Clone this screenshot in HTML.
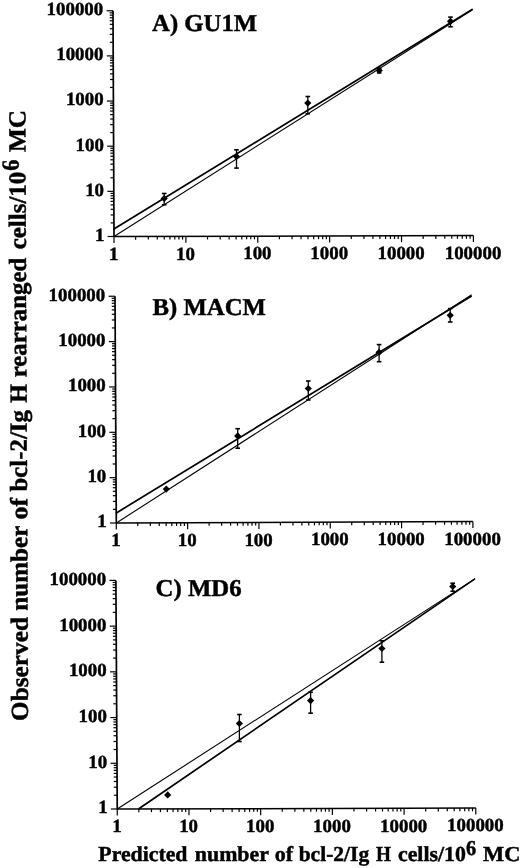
<!DOCTYPE html>
<html><head><meta charset="utf-8"><style>
html,body{margin:0;padding:0;background:#fff;}
svg{display:block;text-rendering:geometricPrecision;filter:blur(0.4px);}
text{font-family:"Liberation Serif",serif;font-weight:bold;fill:#000;stroke:#000;stroke-width:0.45px;}
</style></head><body>
<svg width="520" height="868" viewBox="0 0 520 868">
<g stroke="#000" fill="#000">
<line x1="114.00" y1="236.50" x2="473.40" y2="235.60" stroke-width="1.5" stroke-linecap="butt"/>
<line x1="114.00" y1="236.50" x2="113.00" y2="10.75" stroke-width="1.7" stroke-linecap="butt"/>
<line x1="114.00" y1="236.50" x2="114.00" y2="243.00" stroke-width="1.2" stroke-linecap="butt"/>
<line x1="114.00" y1="236.50" x2="107.60" y2="236.50" stroke-width="1.2" stroke-linecap="butt"/>
<line x1="135.64" y1="236.45" x2="135.64" y2="239.65" stroke-width="1.2" stroke-linecap="butt"/>
<line x1="113.94" y1="222.91" x2="110.64" y2="222.91" stroke-width="1.2" stroke-linecap="butt"/>
<line x1="148.30" y1="236.41" x2="148.30" y2="239.61" stroke-width="1.2" stroke-linecap="butt"/>
<line x1="113.90" y1="214.96" x2="110.60" y2="214.96" stroke-width="1.2" stroke-linecap="butt"/>
<line x1="157.28" y1="236.39" x2="157.28" y2="239.59" stroke-width="1.2" stroke-linecap="butt"/>
<line x1="113.88" y1="209.32" x2="110.58" y2="209.32" stroke-width="1.2" stroke-linecap="butt"/>
<line x1="164.24" y1="236.37" x2="164.24" y2="239.57" stroke-width="1.2" stroke-linecap="butt"/>
<line x1="113.86" y1="204.94" x2="110.56" y2="204.94" stroke-width="1.2" stroke-linecap="butt"/>
<line x1="169.93" y1="236.36" x2="169.93" y2="239.56" stroke-width="1.2" stroke-linecap="butt"/>
<line x1="113.84" y1="201.37" x2="110.54" y2="201.37" stroke-width="1.2" stroke-linecap="butt"/>
<line x1="174.75" y1="236.35" x2="174.75" y2="239.55" stroke-width="1.2" stroke-linecap="butt"/>
<line x1="113.83" y1="198.34" x2="110.53" y2="198.34" stroke-width="1.2" stroke-linecap="butt"/>
<line x1="178.91" y1="236.34" x2="178.91" y2="239.54" stroke-width="1.2" stroke-linecap="butt"/>
<line x1="113.82" y1="195.73" x2="110.52" y2="195.73" stroke-width="1.2" stroke-linecap="butt"/>
<line x1="182.59" y1="236.33" x2="182.59" y2="239.53" stroke-width="1.2" stroke-linecap="butt"/>
<line x1="113.81" y1="193.42" x2="110.51" y2="193.42" stroke-width="1.2" stroke-linecap="butt"/>
<text transform="translate(109.02,259.80) scale(1.0200,1)" style="font-size:18.5px" >1</text>
<text transform="translate(95.04,240.90) scale(1.0200,1)" style="font-size:18.5px" >1</text>
<line x1="185.88" y1="236.32" x2="185.88" y2="242.82" stroke-width="1.2" stroke-linecap="butt"/>
<line x1="113.80" y1="191.35" x2="107.40" y2="191.35" stroke-width="1.2" stroke-linecap="butt"/>
<line x1="207.52" y1="236.27" x2="207.52" y2="239.47" stroke-width="1.2" stroke-linecap="butt"/>
<line x1="113.74" y1="177.76" x2="110.44" y2="177.76" stroke-width="1.2" stroke-linecap="butt"/>
<line x1="220.18" y1="236.23" x2="220.18" y2="239.43" stroke-width="1.2" stroke-linecap="butt"/>
<line x1="113.70" y1="169.81" x2="110.40" y2="169.81" stroke-width="1.2" stroke-linecap="butt"/>
<line x1="229.16" y1="236.21" x2="229.16" y2="239.41" stroke-width="1.2" stroke-linecap="butt"/>
<line x1="113.68" y1="164.17" x2="110.38" y2="164.17" stroke-width="1.2" stroke-linecap="butt"/>
<line x1="236.12" y1="236.19" x2="236.12" y2="239.39" stroke-width="1.2" stroke-linecap="butt"/>
<line x1="113.66" y1="159.79" x2="110.36" y2="159.79" stroke-width="1.2" stroke-linecap="butt"/>
<line x1="241.81" y1="236.18" x2="241.81" y2="239.38" stroke-width="1.2" stroke-linecap="butt"/>
<line x1="113.64" y1="156.22" x2="110.34" y2="156.22" stroke-width="1.2" stroke-linecap="butt"/>
<line x1="246.63" y1="236.17" x2="246.63" y2="239.37" stroke-width="1.2" stroke-linecap="butt"/>
<line x1="113.63" y1="153.19" x2="110.33" y2="153.19" stroke-width="1.2" stroke-linecap="butt"/>
<line x1="250.79" y1="236.16" x2="250.79" y2="239.36" stroke-width="1.2" stroke-linecap="butt"/>
<line x1="113.62" y1="150.58" x2="110.32" y2="150.58" stroke-width="1.2" stroke-linecap="butt"/>
<line x1="254.47" y1="236.15" x2="254.47" y2="239.35" stroke-width="1.2" stroke-linecap="butt"/>
<line x1="113.61" y1="148.27" x2="110.31" y2="148.27" stroke-width="1.2" stroke-linecap="butt"/>
<text transform="translate(176.05,259.62) scale(1.0200,1)" style="font-size:18.5px" >10</text>
<text transform="translate(85.15,195.75) scale(1.0200,1)" style="font-size:18.5px" >10</text>
<line x1="257.76" y1="236.14" x2="257.76" y2="242.64" stroke-width="1.2" stroke-linecap="butt"/>
<line x1="113.60" y1="146.20" x2="107.20" y2="146.20" stroke-width="1.2" stroke-linecap="butt"/>
<line x1="279.40" y1="236.09" x2="279.40" y2="239.29" stroke-width="1.2" stroke-linecap="butt"/>
<line x1="113.54" y1="132.61" x2="110.24" y2="132.61" stroke-width="1.2" stroke-linecap="butt"/>
<line x1="292.06" y1="236.05" x2="292.06" y2="239.25" stroke-width="1.2" stroke-linecap="butt"/>
<line x1="113.50" y1="124.66" x2="110.20" y2="124.66" stroke-width="1.2" stroke-linecap="butt"/>
<line x1="301.04" y1="236.03" x2="301.04" y2="239.23" stroke-width="1.2" stroke-linecap="butt"/>
<line x1="113.48" y1="119.02" x2="110.18" y2="119.02" stroke-width="1.2" stroke-linecap="butt"/>
<line x1="308.00" y1="236.01" x2="308.00" y2="239.21" stroke-width="1.2" stroke-linecap="butt"/>
<line x1="113.46" y1="114.64" x2="110.16" y2="114.64" stroke-width="1.2" stroke-linecap="butt"/>
<line x1="313.69" y1="236.00" x2="313.69" y2="239.20" stroke-width="1.2" stroke-linecap="butt"/>
<line x1="113.44" y1="111.07" x2="110.14" y2="111.07" stroke-width="1.2" stroke-linecap="butt"/>
<line x1="318.51" y1="235.99" x2="318.51" y2="239.19" stroke-width="1.2" stroke-linecap="butt"/>
<line x1="113.43" y1="108.04" x2="110.13" y2="108.04" stroke-width="1.2" stroke-linecap="butt"/>
<line x1="322.67" y1="235.98" x2="322.67" y2="239.18" stroke-width="1.2" stroke-linecap="butt"/>
<line x1="113.42" y1="105.43" x2="110.12" y2="105.43" stroke-width="1.2" stroke-linecap="butt"/>
<line x1="326.35" y1="235.97" x2="326.35" y2="239.17" stroke-width="1.2" stroke-linecap="butt"/>
<line x1="113.41" y1="103.12" x2="110.11" y2="103.12" stroke-width="1.2" stroke-linecap="butt"/>
<text transform="translate(243.21,259.44) scale(1.0200,1)" style="font-size:18.5px" >100</text>
<text transform="translate(75.51,150.60) scale(1.0200,1)" style="font-size:18.5px" >100</text>
<line x1="329.64" y1="235.96" x2="329.64" y2="242.46" stroke-width="1.2" stroke-linecap="butt"/>
<line x1="113.40" y1="101.05" x2="107.00" y2="101.05" stroke-width="1.2" stroke-linecap="butt"/>
<line x1="351.28" y1="235.91" x2="351.28" y2="239.11" stroke-width="1.2" stroke-linecap="butt"/>
<line x1="113.34" y1="87.46" x2="110.04" y2="87.46" stroke-width="1.2" stroke-linecap="butt"/>
<line x1="363.94" y1="235.87" x2="363.94" y2="239.07" stroke-width="1.2" stroke-linecap="butt"/>
<line x1="113.30" y1="79.51" x2="110.00" y2="79.51" stroke-width="1.2" stroke-linecap="butt"/>
<line x1="372.92" y1="235.85" x2="372.92" y2="239.05" stroke-width="1.2" stroke-linecap="butt"/>
<line x1="113.28" y1="73.87" x2="109.98" y2="73.87" stroke-width="1.2" stroke-linecap="butt"/>
<line x1="379.88" y1="235.83" x2="379.88" y2="239.03" stroke-width="1.2" stroke-linecap="butt"/>
<line x1="113.26" y1="69.49" x2="109.96" y2="69.49" stroke-width="1.2" stroke-linecap="butt"/>
<line x1="385.57" y1="235.82" x2="385.57" y2="239.02" stroke-width="1.2" stroke-linecap="butt"/>
<line x1="113.24" y1="65.92" x2="109.94" y2="65.92" stroke-width="1.2" stroke-linecap="butt"/>
<line x1="390.39" y1="235.81" x2="390.39" y2="239.01" stroke-width="1.2" stroke-linecap="butt"/>
<line x1="113.23" y1="62.89" x2="109.93" y2="62.89" stroke-width="1.2" stroke-linecap="butt"/>
<line x1="394.55" y1="235.80" x2="394.55" y2="239.00" stroke-width="1.2" stroke-linecap="butt"/>
<line x1="113.22" y1="60.28" x2="109.92" y2="60.28" stroke-width="1.2" stroke-linecap="butt"/>
<line x1="398.23" y1="235.79" x2="398.23" y2="238.99" stroke-width="1.2" stroke-linecap="butt"/>
<line x1="113.21" y1="57.97" x2="109.91" y2="57.97" stroke-width="1.2" stroke-linecap="butt"/>
<text transform="translate(310.37,259.26) scale(1.0200,1)" style="font-size:18.5px" >1000</text>
<text transform="translate(65.88,105.45) scale(1.0200,1)" style="font-size:18.5px" >1000</text>
<line x1="401.52" y1="235.78" x2="401.52" y2="242.28" stroke-width="1.2" stroke-linecap="butt"/>
<line x1="113.20" y1="55.90" x2="106.80" y2="55.90" stroke-width="1.2" stroke-linecap="butt"/>
<line x1="423.16" y1="235.73" x2="423.16" y2="238.93" stroke-width="1.2" stroke-linecap="butt"/>
<line x1="113.14" y1="42.31" x2="109.84" y2="42.31" stroke-width="1.2" stroke-linecap="butt"/>
<line x1="435.82" y1="235.69" x2="435.82" y2="238.89" stroke-width="1.2" stroke-linecap="butt"/>
<line x1="113.10" y1="34.36" x2="109.80" y2="34.36" stroke-width="1.2" stroke-linecap="butt"/>
<line x1="444.80" y1="235.67" x2="444.80" y2="238.87" stroke-width="1.2" stroke-linecap="butt"/>
<line x1="113.08" y1="28.72" x2="109.78" y2="28.72" stroke-width="1.2" stroke-linecap="butt"/>
<line x1="451.76" y1="235.65" x2="451.76" y2="238.85" stroke-width="1.2" stroke-linecap="butt"/>
<line x1="113.06" y1="24.34" x2="109.76" y2="24.34" stroke-width="1.2" stroke-linecap="butt"/>
<line x1="457.45" y1="235.64" x2="457.45" y2="238.84" stroke-width="1.2" stroke-linecap="butt"/>
<line x1="113.04" y1="20.77" x2="109.74" y2="20.77" stroke-width="1.2" stroke-linecap="butt"/>
<line x1="462.27" y1="235.63" x2="462.27" y2="238.83" stroke-width="1.2" stroke-linecap="butt"/>
<line x1="113.03" y1="17.74" x2="109.73" y2="17.74" stroke-width="1.2" stroke-linecap="butt"/>
<line x1="466.43" y1="235.62" x2="466.43" y2="238.82" stroke-width="1.2" stroke-linecap="butt"/>
<line x1="113.02" y1="15.13" x2="109.72" y2="15.13" stroke-width="1.2" stroke-linecap="butt"/>
<line x1="470.11" y1="235.61" x2="470.11" y2="238.81" stroke-width="1.2" stroke-linecap="butt"/>
<line x1="113.01" y1="12.82" x2="109.71" y2="12.82" stroke-width="1.2" stroke-linecap="butt"/>
<text transform="translate(377.54,259.08) scale(1.0200,1)" style="font-size:18.5px" >10000</text>
<text transform="translate(56.24,60.30) scale(1.0200,1)" style="font-size:18.5px" >10000</text>
<line x1="473.40" y1="235.60" x2="473.40" y2="242.10" stroke-width="1.2" stroke-linecap="butt"/>
<line x1="113.00" y1="10.75" x2="106.60" y2="10.75" stroke-width="1.2" stroke-linecap="butt"/>
<text transform="translate(444.70,258.90) scale(1.0200,1)" style="font-size:18.5px" >100000</text>
<text transform="translate(46.61,15.15) scale(1.0200,1)" style="font-size:18.5px" >100000</text>
<line x1="114.00" y1="236.50" x2="472.10" y2="10.00" stroke-width="1.1" stroke-linecap="round"/>
<line x1="114.30" y1="228.80" x2="472.10" y2="9.50" stroke-width="1.7" stroke-linecap="round"/>
<line x1="164.20" y1="193.50" x2="164.20" y2="204.80" stroke-width="1.3" stroke-linecap="butt"/>
<line x1="161.90" y1="193.50" x2="166.50" y2="193.50" stroke-width="1.6" stroke-linecap="butt"/>
<line x1="161.90" y1="204.80" x2="166.50" y2="204.80" stroke-width="1.6" stroke-linecap="butt"/>
<path d="M164.20 194.90L167.80 198.50L164.20 202.10L160.60 198.50Z" stroke="none"/>
<line x1="236.50" y1="149.80" x2="236.50" y2="168.10" stroke-width="1.3" stroke-linecap="butt"/>
<line x1="234.20" y1="149.80" x2="238.80" y2="149.80" stroke-width="1.6" stroke-linecap="butt"/>
<line x1="234.20" y1="168.10" x2="238.80" y2="168.10" stroke-width="1.6" stroke-linecap="butt"/>
<path d="M236.50 152.90L240.10 156.50L236.50 160.10L232.90 156.50Z" stroke="none"/>
<line x1="307.80" y1="96.50" x2="307.80" y2="113.80" stroke-width="1.3" stroke-linecap="butt"/>
<line x1="305.50" y1="96.50" x2="310.10" y2="96.50" stroke-width="1.6" stroke-linecap="butt"/>
<line x1="305.50" y1="113.80" x2="310.10" y2="113.80" stroke-width="1.6" stroke-linecap="butt"/>
<path d="M307.80 99.50L311.40 103.10L307.80 106.70L304.20 103.10Z" stroke="none"/>
<line x1="379.20" y1="68.20" x2="379.20" y2="72.90" stroke-width="1.3" stroke-linecap="butt"/>
<line x1="376.90" y1="68.20" x2="381.50" y2="68.20" stroke-width="1.6" stroke-linecap="butt"/>
<line x1="376.90" y1="72.90" x2="381.50" y2="72.90" stroke-width="1.6" stroke-linecap="butt"/>
<path d="M379.20 66.80L382.80 70.40L379.20 74.00L375.60 70.40Z" stroke="none"/>
<line x1="450.50" y1="17.10" x2="450.50" y2="26.80" stroke-width="1.3" stroke-linecap="butt"/>
<line x1="448.20" y1="17.10" x2="452.80" y2="17.10" stroke-width="1.6" stroke-linecap="butt"/>
<line x1="448.20" y1="26.80" x2="452.80" y2="26.80" stroke-width="1.6" stroke-linecap="butt"/>
<path d="M450.50 17.70L454.10 21.30L450.50 24.90L446.90 21.30Z" stroke="none"/>
<text transform="translate(152.06,31.00) scale(1.0226,1)" style="font-size:24.2px" >A) GU1M</text>
<line x1="116.30" y1="523.00" x2="472.90" y2="521.50" stroke-width="1.5" stroke-linecap="butt"/>
<line x1="116.30" y1="523.00" x2="115.00" y2="296.25" stroke-width="1.7" stroke-linecap="butt"/>
<line x1="116.30" y1="523.00" x2="116.30" y2="529.50" stroke-width="1.2" stroke-linecap="butt"/>
<line x1="116.30" y1="523.00" x2="109.90" y2="523.00" stroke-width="1.2" stroke-linecap="butt"/>
<line x1="137.77" y1="522.91" x2="137.77" y2="526.11" stroke-width="1.2" stroke-linecap="butt"/>
<line x1="116.22" y1="509.35" x2="112.92" y2="509.35" stroke-width="1.2" stroke-linecap="butt"/>
<line x1="150.33" y1="522.86" x2="150.33" y2="526.06" stroke-width="1.2" stroke-linecap="butt"/>
<line x1="116.18" y1="501.36" x2="112.88" y2="501.36" stroke-width="1.2" stroke-linecap="butt"/>
<line x1="159.24" y1="522.82" x2="159.24" y2="526.02" stroke-width="1.2" stroke-linecap="butt"/>
<line x1="116.14" y1="495.70" x2="112.84" y2="495.70" stroke-width="1.2" stroke-linecap="butt"/>
<line x1="166.15" y1="522.79" x2="166.15" y2="525.99" stroke-width="1.2" stroke-linecap="butt"/>
<line x1="116.12" y1="491.30" x2="112.82" y2="491.30" stroke-width="1.2" stroke-linecap="butt"/>
<line x1="171.80" y1="522.77" x2="171.80" y2="525.97" stroke-width="1.2" stroke-linecap="butt"/>
<line x1="116.10" y1="487.71" x2="112.80" y2="487.71" stroke-width="1.2" stroke-linecap="butt"/>
<line x1="176.57" y1="522.75" x2="176.57" y2="525.95" stroke-width="1.2" stroke-linecap="butt"/>
<line x1="116.08" y1="484.67" x2="112.78" y2="484.67" stroke-width="1.2" stroke-linecap="butt"/>
<line x1="180.71" y1="522.73" x2="180.71" y2="525.93" stroke-width="1.2" stroke-linecap="butt"/>
<line x1="116.07" y1="482.04" x2="112.77" y2="482.04" stroke-width="1.2" stroke-linecap="butt"/>
<line x1="184.36" y1="522.71" x2="184.36" y2="525.91" stroke-width="1.2" stroke-linecap="butt"/>
<line x1="116.05" y1="479.73" x2="112.75" y2="479.73" stroke-width="1.2" stroke-linecap="butt"/>
<text transform="translate(111.32,546.30) scale(1.0200,1)" style="font-size:18.5px" >1</text>
<text transform="translate(97.34,527.40) scale(1.0200,1)" style="font-size:18.5px" >1</text>
<line x1="187.62" y1="522.70" x2="187.62" y2="529.20" stroke-width="1.2" stroke-linecap="butt"/>
<line x1="116.04" y1="477.65" x2="109.64" y2="477.65" stroke-width="1.2" stroke-linecap="butt"/>
<line x1="209.09" y1="522.61" x2="209.09" y2="525.81" stroke-width="1.2" stroke-linecap="butt"/>
<line x1="115.96" y1="464.00" x2="112.66" y2="464.00" stroke-width="1.2" stroke-linecap="butt"/>
<line x1="221.65" y1="522.56" x2="221.65" y2="525.76" stroke-width="1.2" stroke-linecap="butt"/>
<line x1="115.92" y1="456.01" x2="112.62" y2="456.01" stroke-width="1.2" stroke-linecap="butt"/>
<line x1="230.56" y1="522.52" x2="230.56" y2="525.72" stroke-width="1.2" stroke-linecap="butt"/>
<line x1="115.88" y1="450.35" x2="112.58" y2="450.35" stroke-width="1.2" stroke-linecap="butt"/>
<line x1="237.47" y1="522.49" x2="237.47" y2="525.69" stroke-width="1.2" stroke-linecap="butt"/>
<line x1="115.86" y1="445.95" x2="112.56" y2="445.95" stroke-width="1.2" stroke-linecap="butt"/>
<line x1="243.12" y1="522.47" x2="243.12" y2="525.67" stroke-width="1.2" stroke-linecap="butt"/>
<line x1="115.84" y1="442.36" x2="112.54" y2="442.36" stroke-width="1.2" stroke-linecap="butt"/>
<line x1="247.89" y1="522.45" x2="247.89" y2="525.65" stroke-width="1.2" stroke-linecap="butt"/>
<line x1="115.82" y1="439.32" x2="112.52" y2="439.32" stroke-width="1.2" stroke-linecap="butt"/>
<line x1="252.03" y1="522.43" x2="252.03" y2="525.63" stroke-width="1.2" stroke-linecap="butt"/>
<line x1="115.81" y1="436.69" x2="112.51" y2="436.69" stroke-width="1.2" stroke-linecap="butt"/>
<line x1="255.68" y1="522.41" x2="255.68" y2="525.61" stroke-width="1.2" stroke-linecap="butt"/>
<line x1="115.79" y1="434.38" x2="112.49" y2="434.38" stroke-width="1.2" stroke-linecap="butt"/>
<text transform="translate(177.79,546.00) scale(1.0200,1)" style="font-size:18.5px" >10</text>
<text transform="translate(87.39,482.05) scale(1.0200,1)" style="font-size:18.5px" >10</text>
<line x1="258.94" y1="522.40" x2="258.94" y2="528.90" stroke-width="1.2" stroke-linecap="butt"/>
<line x1="115.78" y1="432.30" x2="109.38" y2="432.30" stroke-width="1.2" stroke-linecap="butt"/>
<line x1="280.41" y1="522.31" x2="280.41" y2="525.51" stroke-width="1.2" stroke-linecap="butt"/>
<line x1="115.70" y1="418.65" x2="112.40" y2="418.65" stroke-width="1.2" stroke-linecap="butt"/>
<line x1="292.97" y1="522.26" x2="292.97" y2="525.46" stroke-width="1.2" stroke-linecap="butt"/>
<line x1="115.66" y1="410.66" x2="112.36" y2="410.66" stroke-width="1.2" stroke-linecap="butt"/>
<line x1="301.88" y1="522.22" x2="301.88" y2="525.42" stroke-width="1.2" stroke-linecap="butt"/>
<line x1="115.62" y1="405.00" x2="112.32" y2="405.00" stroke-width="1.2" stroke-linecap="butt"/>
<line x1="308.79" y1="522.19" x2="308.79" y2="525.39" stroke-width="1.2" stroke-linecap="butt"/>
<line x1="115.60" y1="400.60" x2="112.30" y2="400.60" stroke-width="1.2" stroke-linecap="butt"/>
<line x1="314.44" y1="522.17" x2="314.44" y2="525.37" stroke-width="1.2" stroke-linecap="butt"/>
<line x1="115.58" y1="397.01" x2="112.28" y2="397.01" stroke-width="1.2" stroke-linecap="butt"/>
<line x1="319.21" y1="522.15" x2="319.21" y2="525.35" stroke-width="1.2" stroke-linecap="butt"/>
<line x1="115.56" y1="393.97" x2="112.26" y2="393.97" stroke-width="1.2" stroke-linecap="butt"/>
<line x1="323.35" y1="522.13" x2="323.35" y2="525.33" stroke-width="1.2" stroke-linecap="butt"/>
<line x1="115.55" y1="391.34" x2="112.25" y2="391.34" stroke-width="1.2" stroke-linecap="butt"/>
<line x1="327.00" y1="522.11" x2="327.00" y2="525.31" stroke-width="1.2" stroke-linecap="butt"/>
<line x1="115.53" y1="389.03" x2="112.23" y2="389.03" stroke-width="1.2" stroke-linecap="butt"/>
<text transform="translate(244.39,545.70) scale(1.0200,1)" style="font-size:18.5px" >100</text>
<text transform="translate(77.69,436.70) scale(1.0200,1)" style="font-size:18.5px" >100</text>
<line x1="330.26" y1="522.10" x2="330.26" y2="528.60" stroke-width="1.2" stroke-linecap="butt"/>
<line x1="115.52" y1="386.95" x2="109.12" y2="386.95" stroke-width="1.2" stroke-linecap="butt"/>
<line x1="351.73" y1="522.01" x2="351.73" y2="525.21" stroke-width="1.2" stroke-linecap="butt"/>
<line x1="115.44" y1="373.30" x2="112.14" y2="373.30" stroke-width="1.2" stroke-linecap="butt"/>
<line x1="364.29" y1="521.96" x2="364.29" y2="525.16" stroke-width="1.2" stroke-linecap="butt"/>
<line x1="115.40" y1="365.31" x2="112.10" y2="365.31" stroke-width="1.2" stroke-linecap="butt"/>
<line x1="373.20" y1="521.92" x2="373.20" y2="525.12" stroke-width="1.2" stroke-linecap="butt"/>
<line x1="115.36" y1="359.65" x2="112.06" y2="359.65" stroke-width="1.2" stroke-linecap="butt"/>
<line x1="380.11" y1="521.89" x2="380.11" y2="525.09" stroke-width="1.2" stroke-linecap="butt"/>
<line x1="115.34" y1="355.25" x2="112.04" y2="355.25" stroke-width="1.2" stroke-linecap="butt"/>
<line x1="385.76" y1="521.87" x2="385.76" y2="525.07" stroke-width="1.2" stroke-linecap="butt"/>
<line x1="115.32" y1="351.66" x2="112.02" y2="351.66" stroke-width="1.2" stroke-linecap="butt"/>
<line x1="390.53" y1="521.85" x2="390.53" y2="525.05" stroke-width="1.2" stroke-linecap="butt"/>
<line x1="115.30" y1="348.62" x2="112.00" y2="348.62" stroke-width="1.2" stroke-linecap="butt"/>
<line x1="394.67" y1="521.83" x2="394.67" y2="525.03" stroke-width="1.2" stroke-linecap="butt"/>
<line x1="115.29" y1="345.99" x2="111.99" y2="345.99" stroke-width="1.2" stroke-linecap="butt"/>
<line x1="398.32" y1="521.81" x2="398.32" y2="525.01" stroke-width="1.2" stroke-linecap="butt"/>
<line x1="115.27" y1="343.68" x2="111.97" y2="343.68" stroke-width="1.2" stroke-linecap="butt"/>
<text transform="translate(310.99,545.40) scale(1.0200,1)" style="font-size:18.5px" >1000</text>
<text transform="translate(68.00,391.35) scale(1.0200,1)" style="font-size:18.5px" >1000</text>
<line x1="401.58" y1="521.80" x2="401.58" y2="528.30" stroke-width="1.2" stroke-linecap="butt"/>
<line x1="115.26" y1="341.60" x2="108.86" y2="341.60" stroke-width="1.2" stroke-linecap="butt"/>
<line x1="423.05" y1="521.71" x2="423.05" y2="524.91" stroke-width="1.2" stroke-linecap="butt"/>
<line x1="115.18" y1="327.95" x2="111.88" y2="327.95" stroke-width="1.2" stroke-linecap="butt"/>
<line x1="435.61" y1="521.66" x2="435.61" y2="524.86" stroke-width="1.2" stroke-linecap="butt"/>
<line x1="115.14" y1="319.96" x2="111.84" y2="319.96" stroke-width="1.2" stroke-linecap="butt"/>
<line x1="444.52" y1="521.62" x2="444.52" y2="524.82" stroke-width="1.2" stroke-linecap="butt"/>
<line x1="115.10" y1="314.30" x2="111.80" y2="314.30" stroke-width="1.2" stroke-linecap="butt"/>
<line x1="451.43" y1="521.59" x2="451.43" y2="524.79" stroke-width="1.2" stroke-linecap="butt"/>
<line x1="115.08" y1="309.90" x2="111.78" y2="309.90" stroke-width="1.2" stroke-linecap="butt"/>
<line x1="457.08" y1="521.57" x2="457.08" y2="524.77" stroke-width="1.2" stroke-linecap="butt"/>
<line x1="115.06" y1="306.31" x2="111.76" y2="306.31" stroke-width="1.2" stroke-linecap="butt"/>
<line x1="461.85" y1="521.55" x2="461.85" y2="524.75" stroke-width="1.2" stroke-linecap="butt"/>
<line x1="115.04" y1="303.27" x2="111.74" y2="303.27" stroke-width="1.2" stroke-linecap="butt"/>
<line x1="465.99" y1="521.53" x2="465.99" y2="524.73" stroke-width="1.2" stroke-linecap="butt"/>
<line x1="115.03" y1="300.64" x2="111.73" y2="300.64" stroke-width="1.2" stroke-linecap="butt"/>
<line x1="469.64" y1="521.51" x2="469.64" y2="524.71" stroke-width="1.2" stroke-linecap="butt"/>
<line x1="115.01" y1="298.33" x2="111.71" y2="298.33" stroke-width="1.2" stroke-linecap="butt"/>
<text transform="translate(377.60,545.10) scale(1.0200,1)" style="font-size:18.5px" >10000</text>
<text transform="translate(58.30,346.00) scale(1.0200,1)" style="font-size:18.5px" >10000</text>
<line x1="472.90" y1="521.50" x2="472.90" y2="528.00" stroke-width="1.2" stroke-linecap="butt"/>
<line x1="115.00" y1="296.25" x2="108.60" y2="296.25" stroke-width="1.2" stroke-linecap="butt"/>
<text transform="translate(444.20,544.80) scale(1.0200,1)" style="font-size:18.5px" >100000</text>
<text transform="translate(48.61,300.65) scale(1.0200,1)" style="font-size:18.5px" >100000</text>
<line x1="116.30" y1="523.00" x2="471.30" y2="295.00" stroke-width="1.1" stroke-linecap="round"/>
<line x1="116.40" y1="512.90" x2="471.20" y2="296.30" stroke-width="1.7" stroke-linecap="round"/>
<path d="M166.30 485.50L169.90 489.10L166.30 492.70L162.70 489.10Z" stroke="none"/>
<line x1="237.70" y1="428.70" x2="237.70" y2="448.20" stroke-width="1.3" stroke-linecap="butt"/>
<line x1="235.40" y1="428.70" x2="240.00" y2="428.70" stroke-width="1.6" stroke-linecap="butt"/>
<line x1="235.40" y1="448.20" x2="240.00" y2="448.20" stroke-width="1.6" stroke-linecap="butt"/>
<path d="M237.70 432.30L241.30 435.90L237.70 439.50L234.10 435.90Z" stroke="none"/>
<line x1="308.30" y1="381.00" x2="308.30" y2="400.00" stroke-width="1.3" stroke-linecap="butt"/>
<line x1="306.00" y1="381.00" x2="310.60" y2="381.00" stroke-width="1.6" stroke-linecap="butt"/>
<line x1="306.00" y1="400.00" x2="310.60" y2="400.00" stroke-width="1.6" stroke-linecap="butt"/>
<path d="M308.30 384.90L311.90 388.50L308.30 392.10L304.70 388.50Z" stroke="none"/>
<line x1="379.10" y1="344.60" x2="379.10" y2="361.70" stroke-width="1.3" stroke-linecap="butt"/>
<line x1="376.80" y1="344.60" x2="381.40" y2="344.60" stroke-width="1.6" stroke-linecap="butt"/>
<line x1="376.80" y1="361.70" x2="381.40" y2="361.70" stroke-width="1.6" stroke-linecap="butt"/>
<path d="M379.10 348.70L382.70 352.30L379.10 355.90L375.50 352.30Z" stroke="none"/>
<line x1="450.20" y1="308.60" x2="450.20" y2="322.00" stroke-width="1.3" stroke-linecap="butt"/>
<line x1="447.90" y1="308.60" x2="452.50" y2="308.60" stroke-width="1.6" stroke-linecap="butt"/>
<line x1="447.90" y1="322.00" x2="452.50" y2="322.00" stroke-width="1.6" stroke-linecap="butt"/>
<path d="M450.20 311.70L453.80 315.30L450.20 318.90L446.60 315.30Z" stroke="none"/>
<text transform="translate(152.59,314.60) scale(1.0220,1)" style="font-size:24.2px" >B) MACM</text>
<line x1="117.25" y1="809.00" x2="475.80" y2="808.10" stroke-width="1.5" stroke-linecap="butt"/>
<line x1="117.25" y1="809.00" x2="115.90" y2="580.40" stroke-width="1.7" stroke-linecap="butt"/>
<line x1="117.25" y1="809.00" x2="117.25" y2="815.50" stroke-width="1.2" stroke-linecap="butt"/>
<line x1="117.25" y1="809.00" x2="110.85" y2="809.00" stroke-width="1.2" stroke-linecap="butt"/>
<line x1="138.84" y1="808.95" x2="138.84" y2="812.15" stroke-width="1.2" stroke-linecap="butt"/>
<line x1="117.17" y1="795.24" x2="113.87" y2="795.24" stroke-width="1.2" stroke-linecap="butt"/>
<line x1="151.46" y1="808.91" x2="151.46" y2="812.11" stroke-width="1.2" stroke-linecap="butt"/>
<line x1="117.12" y1="787.19" x2="113.82" y2="787.19" stroke-width="1.2" stroke-linecap="butt"/>
<line x1="160.42" y1="808.89" x2="160.42" y2="812.09" stroke-width="1.2" stroke-linecap="butt"/>
<line x1="117.09" y1="781.47" x2="113.79" y2="781.47" stroke-width="1.2" stroke-linecap="butt"/>
<line x1="167.37" y1="808.87" x2="167.37" y2="812.07" stroke-width="1.2" stroke-linecap="butt"/>
<line x1="117.06" y1="777.04" x2="113.76" y2="777.04" stroke-width="1.2" stroke-linecap="butt"/>
<line x1="173.05" y1="808.86" x2="173.05" y2="812.06" stroke-width="1.2" stroke-linecap="butt"/>
<line x1="117.04" y1="773.42" x2="113.74" y2="773.42" stroke-width="1.2" stroke-linecap="butt"/>
<line x1="177.85" y1="808.85" x2="177.85" y2="812.05" stroke-width="1.2" stroke-linecap="butt"/>
<line x1="117.02" y1="770.36" x2="113.72" y2="770.36" stroke-width="1.2" stroke-linecap="butt"/>
<line x1="182.01" y1="808.84" x2="182.01" y2="812.04" stroke-width="1.2" stroke-linecap="butt"/>
<line x1="117.01" y1="767.71" x2="113.71" y2="767.71" stroke-width="1.2" stroke-linecap="butt"/>
<line x1="185.68" y1="808.83" x2="185.68" y2="812.03" stroke-width="1.2" stroke-linecap="butt"/>
<line x1="116.99" y1="765.37" x2="113.69" y2="765.37" stroke-width="1.2" stroke-linecap="butt"/>
<text transform="translate(112.27,832.30) scale(1.0200,1)" style="font-size:18.5px" >1</text>
<text transform="translate(98.29,813.40) scale(1.0200,1)" style="font-size:18.5px" >1</text>
<line x1="188.96" y1="808.82" x2="188.96" y2="815.32" stroke-width="1.2" stroke-linecap="butt"/>
<line x1="116.98" y1="763.28" x2="110.58" y2="763.28" stroke-width="1.2" stroke-linecap="butt"/>
<line x1="210.55" y1="808.77" x2="210.55" y2="811.97" stroke-width="1.2" stroke-linecap="butt"/>
<line x1="116.90" y1="749.52" x2="113.60" y2="749.52" stroke-width="1.2" stroke-linecap="butt"/>
<line x1="223.17" y1="808.73" x2="223.17" y2="811.93" stroke-width="1.2" stroke-linecap="butt"/>
<line x1="116.85" y1="741.47" x2="113.55" y2="741.47" stroke-width="1.2" stroke-linecap="butt"/>
<line x1="232.13" y1="808.71" x2="232.13" y2="811.91" stroke-width="1.2" stroke-linecap="butt"/>
<line x1="116.82" y1="735.75" x2="113.52" y2="735.75" stroke-width="1.2" stroke-linecap="butt"/>
<line x1="239.08" y1="808.69" x2="239.08" y2="811.89" stroke-width="1.2" stroke-linecap="butt"/>
<line x1="116.79" y1="731.32" x2="113.49" y2="731.32" stroke-width="1.2" stroke-linecap="butt"/>
<line x1="244.76" y1="808.68" x2="244.76" y2="811.88" stroke-width="1.2" stroke-linecap="butt"/>
<line x1="116.77" y1="727.70" x2="113.47" y2="727.70" stroke-width="1.2" stroke-linecap="butt"/>
<line x1="249.56" y1="808.67" x2="249.56" y2="811.87" stroke-width="1.2" stroke-linecap="butt"/>
<line x1="116.75" y1="724.64" x2="113.45" y2="724.64" stroke-width="1.2" stroke-linecap="butt"/>
<line x1="253.72" y1="808.66" x2="253.72" y2="811.86" stroke-width="1.2" stroke-linecap="butt"/>
<line x1="116.74" y1="721.99" x2="113.44" y2="721.99" stroke-width="1.2" stroke-linecap="butt"/>
<line x1="257.39" y1="808.65" x2="257.39" y2="811.85" stroke-width="1.2" stroke-linecap="butt"/>
<line x1="116.72" y1="719.65" x2="113.42" y2="719.65" stroke-width="1.2" stroke-linecap="butt"/>
<text transform="translate(179.13,832.12) scale(1.0200,1)" style="font-size:18.5px" >10</text>
<text transform="translate(88.33,767.68) scale(1.0200,1)" style="font-size:18.5px" >10</text>
<line x1="260.67" y1="808.64" x2="260.67" y2="815.14" stroke-width="1.2" stroke-linecap="butt"/>
<line x1="116.71" y1="717.56" x2="110.31" y2="717.56" stroke-width="1.2" stroke-linecap="butt"/>
<line x1="282.26" y1="808.59" x2="282.26" y2="811.79" stroke-width="1.2" stroke-linecap="butt"/>
<line x1="116.63" y1="703.80" x2="113.33" y2="703.80" stroke-width="1.2" stroke-linecap="butt"/>
<line x1="294.88" y1="808.55" x2="294.88" y2="811.75" stroke-width="1.2" stroke-linecap="butt"/>
<line x1="116.58" y1="695.75" x2="113.28" y2="695.75" stroke-width="1.2" stroke-linecap="butt"/>
<line x1="303.84" y1="808.53" x2="303.84" y2="811.73" stroke-width="1.2" stroke-linecap="butt"/>
<line x1="116.55" y1="690.03" x2="113.25" y2="690.03" stroke-width="1.2" stroke-linecap="butt"/>
<line x1="310.79" y1="808.51" x2="310.79" y2="811.71" stroke-width="1.2" stroke-linecap="butt"/>
<line x1="116.52" y1="685.60" x2="113.22" y2="685.60" stroke-width="1.2" stroke-linecap="butt"/>
<line x1="316.47" y1="808.50" x2="316.47" y2="811.70" stroke-width="1.2" stroke-linecap="butt"/>
<line x1="116.50" y1="681.98" x2="113.20" y2="681.98" stroke-width="1.2" stroke-linecap="butt"/>
<line x1="321.27" y1="808.49" x2="321.27" y2="811.69" stroke-width="1.2" stroke-linecap="butt"/>
<line x1="116.48" y1="678.92" x2="113.18" y2="678.92" stroke-width="1.2" stroke-linecap="butt"/>
<line x1="325.43" y1="808.48" x2="325.43" y2="811.68" stroke-width="1.2" stroke-linecap="butt"/>
<line x1="116.47" y1="676.27" x2="113.17" y2="676.27" stroke-width="1.2" stroke-linecap="butt"/>
<line x1="329.10" y1="808.47" x2="329.10" y2="811.67" stroke-width="1.2" stroke-linecap="butt"/>
<line x1="116.45" y1="673.93" x2="113.15" y2="673.93" stroke-width="1.2" stroke-linecap="butt"/>
<text transform="translate(246.12,831.94) scale(1.0200,1)" style="font-size:18.5px" >100</text>
<text transform="translate(78.62,721.96) scale(1.0200,1)" style="font-size:18.5px" >100</text>
<line x1="332.38" y1="808.46" x2="332.38" y2="814.96" stroke-width="1.2" stroke-linecap="butt"/>
<line x1="116.44" y1="671.84" x2="110.04" y2="671.84" stroke-width="1.2" stroke-linecap="butt"/>
<line x1="353.97" y1="808.41" x2="353.97" y2="811.61" stroke-width="1.2" stroke-linecap="butt"/>
<line x1="116.36" y1="658.08" x2="113.06" y2="658.08" stroke-width="1.2" stroke-linecap="butt"/>
<line x1="366.59" y1="808.37" x2="366.59" y2="811.57" stroke-width="1.2" stroke-linecap="butt"/>
<line x1="116.31" y1="650.03" x2="113.01" y2="650.03" stroke-width="1.2" stroke-linecap="butt"/>
<line x1="375.55" y1="808.35" x2="375.55" y2="811.55" stroke-width="1.2" stroke-linecap="butt"/>
<line x1="116.28" y1="644.31" x2="112.98" y2="644.31" stroke-width="1.2" stroke-linecap="butt"/>
<line x1="382.50" y1="808.33" x2="382.50" y2="811.53" stroke-width="1.2" stroke-linecap="butt"/>
<line x1="116.25" y1="639.88" x2="112.95" y2="639.88" stroke-width="1.2" stroke-linecap="butt"/>
<line x1="388.18" y1="808.32" x2="388.18" y2="811.52" stroke-width="1.2" stroke-linecap="butt"/>
<line x1="116.23" y1="636.26" x2="112.93" y2="636.26" stroke-width="1.2" stroke-linecap="butt"/>
<line x1="392.98" y1="808.31" x2="392.98" y2="811.51" stroke-width="1.2" stroke-linecap="butt"/>
<line x1="116.21" y1="633.20" x2="112.91" y2="633.20" stroke-width="1.2" stroke-linecap="butt"/>
<line x1="397.14" y1="808.30" x2="397.14" y2="811.50" stroke-width="1.2" stroke-linecap="butt"/>
<line x1="116.20" y1="630.55" x2="112.90" y2="630.55" stroke-width="1.2" stroke-linecap="butt"/>
<line x1="400.81" y1="808.29" x2="400.81" y2="811.49" stroke-width="1.2" stroke-linecap="butt"/>
<line x1="116.18" y1="628.21" x2="112.88" y2="628.21" stroke-width="1.2" stroke-linecap="butt"/>
<text transform="translate(313.11,831.76) scale(1.0200,1)" style="font-size:18.5px" >1000</text>
<text transform="translate(68.92,676.24) scale(1.0200,1)" style="font-size:18.5px" >1000</text>
<line x1="404.09" y1="808.28" x2="404.09" y2="814.78" stroke-width="1.2" stroke-linecap="butt"/>
<line x1="116.17" y1="626.12" x2="109.77" y2="626.12" stroke-width="1.2" stroke-linecap="butt"/>
<line x1="425.68" y1="808.23" x2="425.68" y2="811.43" stroke-width="1.2" stroke-linecap="butt"/>
<line x1="116.09" y1="612.36" x2="112.79" y2="612.36" stroke-width="1.2" stroke-linecap="butt"/>
<line x1="438.30" y1="808.19" x2="438.30" y2="811.39" stroke-width="1.2" stroke-linecap="butt"/>
<line x1="116.04" y1="604.31" x2="112.74" y2="604.31" stroke-width="1.2" stroke-linecap="butt"/>
<line x1="447.26" y1="808.17" x2="447.26" y2="811.37" stroke-width="1.2" stroke-linecap="butt"/>
<line x1="116.01" y1="598.59" x2="112.71" y2="598.59" stroke-width="1.2" stroke-linecap="butt"/>
<line x1="454.21" y1="808.15" x2="454.21" y2="811.35" stroke-width="1.2" stroke-linecap="butt"/>
<line x1="115.98" y1="594.16" x2="112.68" y2="594.16" stroke-width="1.2" stroke-linecap="butt"/>
<line x1="459.89" y1="808.14" x2="459.89" y2="811.34" stroke-width="1.2" stroke-linecap="butt"/>
<line x1="115.96" y1="590.54" x2="112.66" y2="590.54" stroke-width="1.2" stroke-linecap="butt"/>
<line x1="464.69" y1="808.13" x2="464.69" y2="811.33" stroke-width="1.2" stroke-linecap="butt"/>
<line x1="115.94" y1="587.48" x2="112.64" y2="587.48" stroke-width="1.2" stroke-linecap="butt"/>
<line x1="468.85" y1="808.12" x2="468.85" y2="811.32" stroke-width="1.2" stroke-linecap="butt"/>
<line x1="115.93" y1="584.83" x2="112.63" y2="584.83" stroke-width="1.2" stroke-linecap="butt"/>
<line x1="472.52" y1="808.11" x2="472.52" y2="811.31" stroke-width="1.2" stroke-linecap="butt"/>
<line x1="115.91" y1="582.49" x2="112.61" y2="582.49" stroke-width="1.2" stroke-linecap="butt"/>
<text transform="translate(380.11,831.58) scale(1.0200,1)" style="font-size:18.5px" >10000</text>
<text transform="translate(59.21,630.52) scale(1.0200,1)" style="font-size:18.5px" >10000</text>
<line x1="475.80" y1="808.10" x2="475.80" y2="814.60" stroke-width="1.2" stroke-linecap="butt"/>
<line x1="115.90" y1="580.40" x2="109.50" y2="580.40" stroke-width="1.2" stroke-linecap="butt"/>
<text transform="translate(447.10,831.40) scale(1.0200,1)" style="font-size:18.5px" >100000</text>
<text transform="translate(49.51,584.80) scale(1.0200,1)" style="font-size:18.5px" >100000</text>
<line x1="117.25" y1="809.00" x2="474.50" y2="579.10" stroke-width="1.1" stroke-linecap="round"/>
<line x1="139.20" y1="808.50" x2="474.50" y2="579.10" stroke-width="1.7" stroke-linecap="round"/>
<path d="M167.70 791.30L171.30 794.90L167.70 798.50L164.10 794.90Z" stroke="none"/>
<line x1="239.40" y1="714.50" x2="239.40" y2="741.50" stroke-width="1.3" stroke-linecap="butt"/>
<line x1="237.10" y1="714.50" x2="241.70" y2="714.50" stroke-width="1.6" stroke-linecap="butt"/>
<line x1="237.10" y1="741.50" x2="241.70" y2="741.50" stroke-width="1.6" stroke-linecap="butt"/>
<path d="M239.40 719.90L243.00 723.50L239.40 727.10L235.80 723.50Z" stroke="none"/>
<line x1="310.60" y1="692.30" x2="310.60" y2="713.20" stroke-width="1.3" stroke-linecap="butt"/>
<line x1="308.30" y1="692.30" x2="312.90" y2="692.30" stroke-width="1.6" stroke-linecap="butt"/>
<line x1="308.30" y1="713.20" x2="312.90" y2="713.20" stroke-width="1.6" stroke-linecap="butt"/>
<path d="M310.60 697.00L314.20 700.60L310.60 704.20L307.00 700.60Z" stroke="none"/>
<line x1="381.90" y1="640.80" x2="381.90" y2="662.20" stroke-width="1.3" stroke-linecap="butt"/>
<line x1="379.60" y1="640.80" x2="384.20" y2="640.80" stroke-width="1.6" stroke-linecap="butt"/>
<line x1="379.60" y1="662.20" x2="384.20" y2="662.20" stroke-width="1.6" stroke-linecap="butt"/>
<path d="M381.90 644.90L385.50 648.50L381.90 652.10L378.30 648.50Z" stroke="none"/>
<line x1="452.70" y1="583.20" x2="452.70" y2="591.20" stroke-width="1.3" stroke-linecap="butt"/>
<line x1="450.40" y1="583.20" x2="455.00" y2="583.20" stroke-width="1.6" stroke-linecap="butt"/>
<line x1="450.40" y1="591.20" x2="455.00" y2="591.20" stroke-width="1.6" stroke-linecap="butt"/>
<path d="M452.70 582.90L456.30 586.50L452.70 590.10L449.10 586.50Z" stroke="none"/>
<text transform="translate(155.59,596.40) scale(1.0254,1)" style="font-size:24.2px" >C) MD6</text>
</g>
<text transform="translate(28.08,720.93) rotate(-90.26) scale(1.0276,1)" style="font-size:24.6px">Observed</text>
<text transform="translate(27.60,610.78) rotate(-90.26) scale(1.0221,1)" style="font-size:24.6px">number</text>
<text transform="translate(27.31,519.49) rotate(-90.26) scale(1.0558,1)" style="font-size:24.6px">of</text>
<text transform="translate(27.04,491.52) rotate(-90.26) scale(1.0102,1)" style="font-size:24.6px">bcl-2/Ig</text>
<text transform="translate(26.76,402.81) rotate(-90.26) scale(0.9778,1)" style="font-size:24.6px">H</text>
<text transform="translate(26.40,377.27) rotate(-90.26) scale(1.0092,1)" style="font-size:24.6px">rearranged</text>
<text transform="translate(25.89,249.35) rotate(-90.26) scale(1.0156,1)" style="font-size:24.6px">cells/10</text>
<text transform="translate(25.51,152.03) rotate(-90.26) scale(1.0287,1)" style="font-size:24.6px">MC</text>
<text transform="translate(18.77,170.87) rotate(-90.26) scale(0.9126,1)" style="font-size:24.6px">6</text>
<text transform="translate(98.33,861.40) scale(1.0227,1)" style="font-size:21.3px" >Predicted</text>
<text transform="translate(194.81,861.40) scale(1.0273,1)" style="font-size:21.3px" >number</text>
<text transform="translate(274.86,861.40) scale(1.0327,1)" style="font-size:21.3px" >of</text>
<text transform="translate(298.63,861.40) scale(1.0110,1)" style="font-size:21.3px" >bcl-2/Ig</text>
<text transform="translate(375.97,861.40) scale(0.9022,1)" style="font-size:21.3px" >H</text>
<text transform="translate(397.95,861.40) scale(1.0261,1)" style="font-size:21.3px" >cells/10</text>
<text transform="translate(466.10,854.50) scale(0.9572,1)" style="font-size:21.3px" >6</text>
<text transform="translate(483.02,861.40) scale(1.0508,1)" style="font-size:21.3px" >MC</text>
</svg>
</body></html>
